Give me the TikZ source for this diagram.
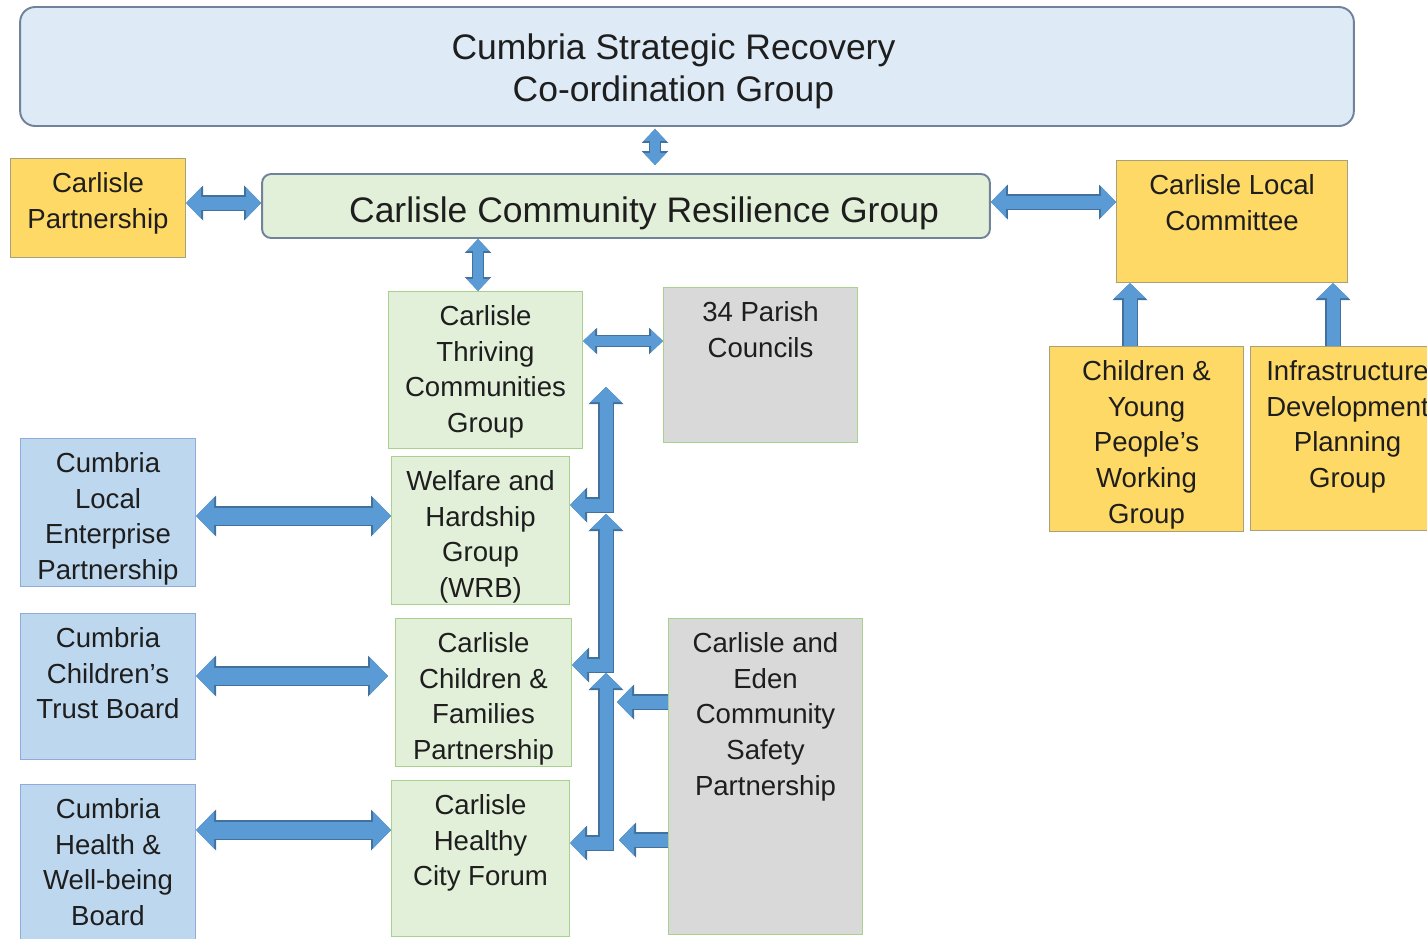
\documentclass[tikz,border=0pt]{standalone}
\usepackage{fontspec}
\setmainfont{Liberation Sans}
\usetikzlibrary{
  arrows.meta,
  positioning
}

\definecolor{inkcol}{HTML}{1E1E1E}
\definecolor{stratfill}{HTML}{DEEBF7}
\definecolor{stratedge}{HTML}{70839B}
\definecolor{resfill}{HTML}{E2F0D9}
\definecolor{goldfill}{HTML}{FFD966}
\definecolor{goldedge}{HTML}{A8A07C}
\definecolor{greenfill}{HTML}{E2F0D9}
\definecolor{greenedge}{HTML}{A9D18E}
\definecolor{greyfill}{HTML}{D9D9D9}
\definecolor{bluefill}{HTML}{BDD7EE}
\definecolor{blueedge}{HTML}{8FAADC}
\definecolor{arrowfill}{HTML}{5B9BD5}
\definecolor{arrowedge}{HTML}{41719C}

\newlength{\gridpx}
\setlength{\gridpx}{0.02cm}
\newcommand{\cardfont}{\fontsize{15.7pt}{20.3pt}\selectfont}
\newcommand{\bigfont}{\fontsize{20.2pt}{23.8pt}\selectfont}
% fixed size box, lines hung from the top edge
\newcommand{\boxlines}[3]{\parbox[c][#2\gridpx][t]{#1\gridpx}{\centering\rule{0pt}{34\gridpx}#3}}

\tikzset{
  headsize/.style 2 args = {>={Triangle[width=#1, length=#2, line width=0pt]}},
  group/.style      = {draw=stratedge, line width=1.1pt, align=center, inner sep=0pt, text=inkcol, font=\bigfont},
  card/.style       = {draw, line width=0.6pt, inner sep=0pt, anchor=north west, text=inkcol, font=\cardfont},
  gold card/.style  = {card, fill=goldfill, draw=goldedge},
  green card/.style = {card, fill=greenfill, draw=greenedge},
  grey card/.style  = {card, fill=greyfill, draw=greenedge},
  blue card/.style  = {card, fill=bluefill, draw=blueedge},
  % block arrows: dark outline pass first, then the fill pass
  thin link/.style = {
    preaction = {draw=arrowedge, line width=0.25cm, headsize={0.53cm}{0.28cm}, arrows=#1},
    draw=arrowfill, line width=0.20cm, headsize={0.45cm}{0.24cm}, arrows=#1},
  link/.style = {
    preaction = {draw=arrowedge, line width=0.31cm, headsize={0.70cm}{0.34cm}, arrows=#1},
    draw=arrowfill, line width=0.26cm, headsize={0.62cm}{0.30cm}, arrows=#1},
  wide link/.style = {
    preaction = {draw=arrowedge, line width=0.39cm, headsize={0.82cm}{0.40cm}, arrows=#1},
    draw=arrowfill, line width=0.34cm, headsize={0.74cm}{0.36cm}, arrows=#1}
}

\begin{document}
\begin{tikzpicture}[x=0.02cm, y=-0.02cm]
  \useasboundingbox (0,0) rectangle (1427,938);
  \fill [white] (0,0) rectangle (1427,938);
  \clip (0,0) rectangle (1427,938);

  % Strategic and community level
  \node [group, fill=stratfill, rounded corners=0.3cm, minimum width=26.68cm, minimum height=2.38cm,
         text height=1.53cm, text depth=0.15cm] (strategic) at (687,66.5)
    {Cumbria Strategic Recovery\hspace*{27\gridpx}\\Co-ordination Group\hspace*{27\gridpx}};
  \node [group, fill=resfill, rounded corners=0.18cm, minimum width=14.56cm, minimum height=1.28cm,
         text height=0.79cm, text depth=0.15cm] (resilience) at (626,206)
    {\hspace*{36\gridpx}Carlisle Community Resilience Group};

  % Partner groups
  \node [gold card] (partnership)    at (10,158)   {\boxlines{175}{99}{Carlisle\\Partnership}};
  \node [gold card] (committee)      at (1116,160) {\boxlines{231}{122}{Carlisle Local\\Committee}};
  \node [gold card] (youngpeople)    at (1049,346) {\boxlines{194}{185}{Children \&\\Young\\People’s\\Working\\Group}};
  \node [gold card] (infrastructure) at (1250,346) {\boxlines{194}{184}{Infrastructure\\Development\\Planning\\Group}};

  % Carlisle working groups
  \node [green card] (thriving) at (388,291) {\boxlines{194}{157}{Carlisle\\Thriving\\Communities\\Group}};
  \node [grey card]  (parish)   at (663,287) {\boxlines{194}{155}{34 Parish\\Councils}};
  \node [green card] (welfare)  at (391,456) {\boxlines{178}{148}{Welfare and\\Hardship\\Group\\(WRB)}};
  \node [green card] (families) at (395,618) {\boxlines{176}{148}{Carlisle\\Children \&\\Families\\Partnership}};
  \node [green card] (healthy)  at (391,780) {\boxlines{178}{156}{Carlisle\\Healthy\\City Forum}};
  \node [grey card]  (safety)   at (668,618) {\boxlines{194}{316}{Carlisle and\\Eden\\Community\\Safety\\Partnership}};

  % County boards
  \node [blue card] (enterprise) at (20,438) {\boxlines{175}{148}{Cumbria\\Local\\Enterprise\\Partnership}};
  \node [blue card] (trust)      at (20,613) {\boxlines{175}{146}{Cumbria\\Children’s\\Trust Board}};
  \node [blue card] (wellbeing)  at (20,784) {\boxlines{175}{170}{Cumbria\\Health \&\\Well-being\\Board}};

  % Free ends of the bent arrows
  \coordinate (spineA)  at (606,387);
  \coordinate (spineB)  at (606,514);
  \coordinate (spineC)  at (606,673);
  \coordinate (safetyA) at (617,702);
  \coordinate (safetyB) at (619,840);

  % Links
  \draw [thin link=<->, shorten <=0.04cm, shorten >=0.16cm] (strategic.south -| 655,0) -- (resilience.north -| 655,0);
  \draw [link=<->] (partnership.east |- 0,203) -- (resilience.west |- 0,203);
  \draw [link=<->] (resilience.east |- 0,202) -- (committee.west |- 0,202);
  \draw [link=->] (youngpeople.north -| 1130,0) -- (committee.south -| 1130,0);
  \draw [link=->] (infrastructure.north -| 1333,0) -- (committee.south -| 1333,0);
  \draw [thin link=<->] (resilience.south -| 478,0) -- (thriving.north -| 478,0);
  \draw [thin link=<->] (thriving.east |- 0,341) -- (parish.west |- 0,341);

  \draw [wide link=<->] (enterprise.east |- 0,516) -- (welfare.west |- 0,516);
  \draw [wide link=<->, shorten >=0.14cm] (trust.east |- 0,676) -- (families.west |- 0,676);
  \draw [wide link=<->] (wellbeing.east |- 0,830) -- (healthy.west |- 0,830);

  \draw [link=<->] (welfare.east |- 0,505) -| (spineA);
  \draw [link=<->] (families.east |- 0,665) -| (spineB);
  \draw [link=<->] (healthy.east |- 0,843) -| (spineC);
  \draw [link=->] (safety.west |- safetyA) -- (safetyA);
  \draw [link=->] (safety.west |- safetyB) -- (safetyB);
\end{tikzpicture}
\end{document}
